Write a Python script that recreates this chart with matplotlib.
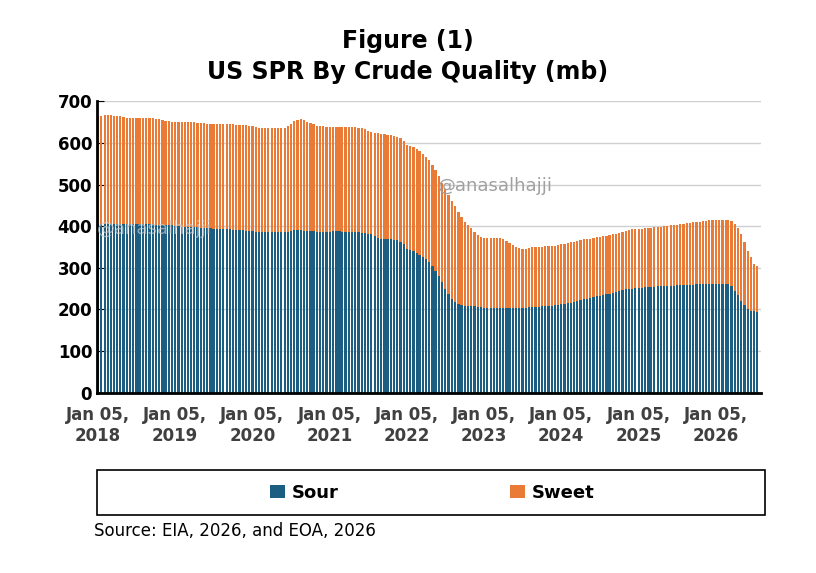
import matplotlib
matplotlib.use("Agg")
import matplotlib.pyplot as plt
import matplotlib.dates as mdates
from matplotlib.patches import Rectangle
import numpy as np
import pandas as pd

# semi-monthly readings (1st and 16th of each month), Jan 2018 - Jul 2026
total = [665,666,667,667,667,666,665,664,662,661,660,660,660,660,660,660,660,659,658,657,655,654,652,651,
         650,650,650,650,650,650,650,649,648,647,646,645,645,645,645,645,645,645,645,644,644,643,643,642,
         640,638,636,635,635,635,635,635,635,635,636,640,646,652,656,657,655,651,648,645,642,641,640,639,
         638,638,638,638,638,638,638,638,638,637,636,634,630,627,625,624,622,621,620,619,618,615,612,605,
         595,593,590,586,580,574,566,558,546,535,520,505,490,475,460,448,435,422,410,402,395,386,378,374,
         372,372,372,372,372,371,368,365,360,355,350,347,346,346,347,349,350,351,351,352,352,353,353,354,
         356,358,360,362,363,365,366,368,369,370,372,373,374,376,377,379,380,382,384,386,388,390,392,393,
         394,394,395,396,396,397,398,399,400,401,402,403,404,405,406,407,408,409,410,411,412,413,414,415,
         415,416,415,415,414,412,405,395,380,362,340,325,310,305]
sour = [405,405,406,406,406,406,405,405,405,405,405,405,405,405,405,405,405,405,404,404,403,403,402,402,
        400,400,399,399,398,398,397,397,396,396,395,395,394,394,393,393,392,392,391,391,390,390,389,389,
        388,387,386,386,385,385,385,385,385,385,385,386,388,390,390,390,389,389,388,388,387,387,386,386,
        387,388,388,388,387,386,385,385,385,385,384,384,382,380,376,372,370,370,368,368,367,366,363,358,
        345,343,340,335,330,325,320,313,305,293,280,265,250,238,225,218,212,210,208,208,207,207,206,205,
        204,204,204,204,204,204,204,204,204,204,204,204,204,204,205,205,206,206,207,207,208,209,210,210,
        212,213,215,216,218,220,222,224,226,228,230,231,233,235,236,238,240,242,244,246,248,249,250,251,
        252,252,253,253,254,254,255,255,256,256,257,257,258,258,258,258,259,259,260,260,260,260,261,261,
        262,262,262,262,260,256,245,235,220,210,200,197,195,193]
tick_years = list(range(2018, 2027))

n = len(total)
dates = []
for i in range(n):
    m = i // 2
    y, mo = 2018 + m // 12, m % 12 + 1
    dates.append(pd.Timestamp(y, mo, 1 if i % 2 == 0 else 16))
x = mdates.date2num(dates) + 5
tot = np.array(total); so = np.array(sour); sw = tot - so

fig = plt.figure(figsize=(8.16, 5.73), dpi=100)
ax = fig.add_axes([0.119, 0.315, 0.813, 0.508])
ax.bar(x, so, width=10.5, color="#1b5e82", label="Sour")
ax.bar(x, sw, bottom=so, width=10.5, color="#e97b37", label="Sweet")
ax.set_ylim(0, 700)
ax.set_xlim(mdates.date2num(pd.Timestamp("2018-01-01")), mdates.date2num(pd.Timestamp("2026-08-05")))
ax.set_yticks(range(0, 701, 100))
ax.yaxis.grid(True, color="#d0d0d0", lw=1)
ax.set_axisbelow(True)
ticks = [pd.Timestamp(f"{y}-01-05") for y in tick_years]
ax.set_xticks(mdates.date2num(ticks))
ax.set_xticklabels([f"Jan 05,\n{t.year}" for t in ticks], fontsize=12, fontweight="bold", color="#404040")
for l in ax.get_yticklabels():
    l.set_fontsize(12); l.set_fontweight("bold")
ax.tick_params(axis="x", length=0, pad=10)
ax.tick_params(axis="y", length=5, direction="in")
for s in ["top", "right"]:
    ax.spines[s].set_visible(False)
ax.spines["left"].set_linewidth(2)
ax.spines["bottom"].set_linewidth(2)
ax.text(0.6, 0.71, "@anasalhajji", transform=ax.transAxes, fontsize=13, color="#a0a0a0", ha="center", va="center")
ax.text(0.0, 0.56, "@anasalhajji", transform=ax.transAxes, fontsize=13, color="#c8c8c8", ha="left", va="center", alpha=0.7)
fig.suptitle("Figure (1)\nUS SPR By Crude Quality (mb)", y=0.95, fontsize=17, fontweight="bold", linespacing=1.4)
fig.patches.append(Rectangle((0.119, 0.101), 0.818, 0.078, transform=fig.transFigure,
                             fill=False, edgecolor="black", lw=1.2))
h, lab = ax.get_legend_handles_labels()
fig.legend(h, lab, loc="center", bbox_to_anchor=(0.53, 0.14), ncol=2, frameon=False,
           prop={"weight": "bold", "size": 13}, handlelength=0.8, handleheight=0.8,
           columnspacing=9.5, handletextpad=0.4)
fig.text(0.115, 0.065, "Source: EIA, 2026, and EOA, 2026", fontsize=12)
fig.savefig("out.png")
